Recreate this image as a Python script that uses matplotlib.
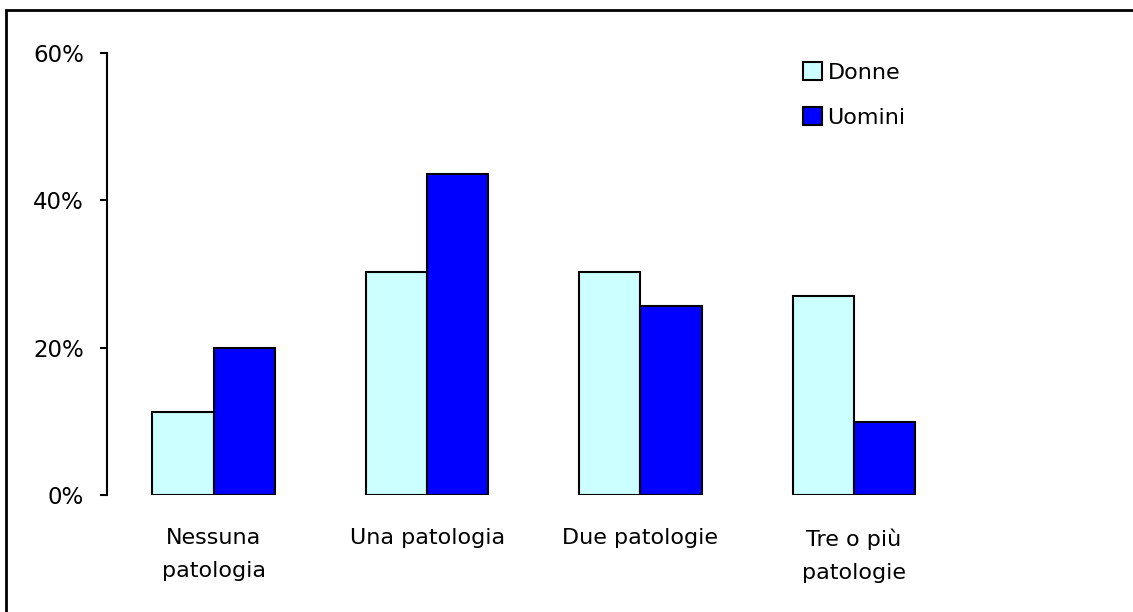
import matplotlib.pyplot as plt
import numpy as np
from matplotlib.patches import Rectangle

categories = ['Nessuna\npatologia', 'Una patologia', 'Due patologie', 'Tre o più\npatologie']
donne = [11.3, 30.3, 30.3, 27.0]
uomini = [20.0, 43.6, 25.6, 9.9]
yticks = [0, 20, 40, 60]
ytick_labels = ['0%', '20%', '40%', '60%']

W, H = 1133, 612
fig = plt.figure(figsize=(W / 100, H / 100), dpi=100)
ax = fig.add_axes([107 / W, 1 - 495 / H, (960.5 - 107) / W, (495 - 53) / H])

x = np.arange(len(categories))
bw = 0.287
ax.bar(x - bw / 2, donne, bw, color='#CCFFFF', edgecolor='black', linewidth=1.5, label='Donne')
ax.bar(x + bw / 2, uomini, bw, color='#0000FF', edgecolor='black', linewidth=1.5, label='Uomini')

ax.set_xlim(-0.5, 3.5)
ax.set_ylim(0, 60)
ax.set_yticks(yticks)
ax.set_yticklabels(ytick_labels, fontsize=16.5)
ax.set_xticks(x)
ax.set_xticklabels(categories, fontsize=16, linespacing=1.8)
ax.tick_params(axis='x', length=0, pad=24)
ax.tick_params(axis='y', length=5, width=1.5, pad=11.5, direction='out')
for s in ['top', 'right', 'bottom']:
    ax.spines[s].set_visible(False)
ax.spines['left'].set_linewidth(1.5)

ax.legend(loc='upper left', bbox_to_anchor=(803 / W, 1 - 62 / H), bbox_transform=fig.transFigure,
          frameon=False, fontsize=16, handlelength=0.85, handleheight=0.85, handletextpad=0.25,
          labelspacing=1.12, borderaxespad=0, borderpad=0)

# cornice esterna
fig.patches.append(Rectangle((6 / W, -0.1), 1.2, 1 - 10 / H + 0.1, transform=fig.transFigure,
                             fill=False, edgecolor='black', linewidth=2))

fig.savefig('out.png', dpi=100)
